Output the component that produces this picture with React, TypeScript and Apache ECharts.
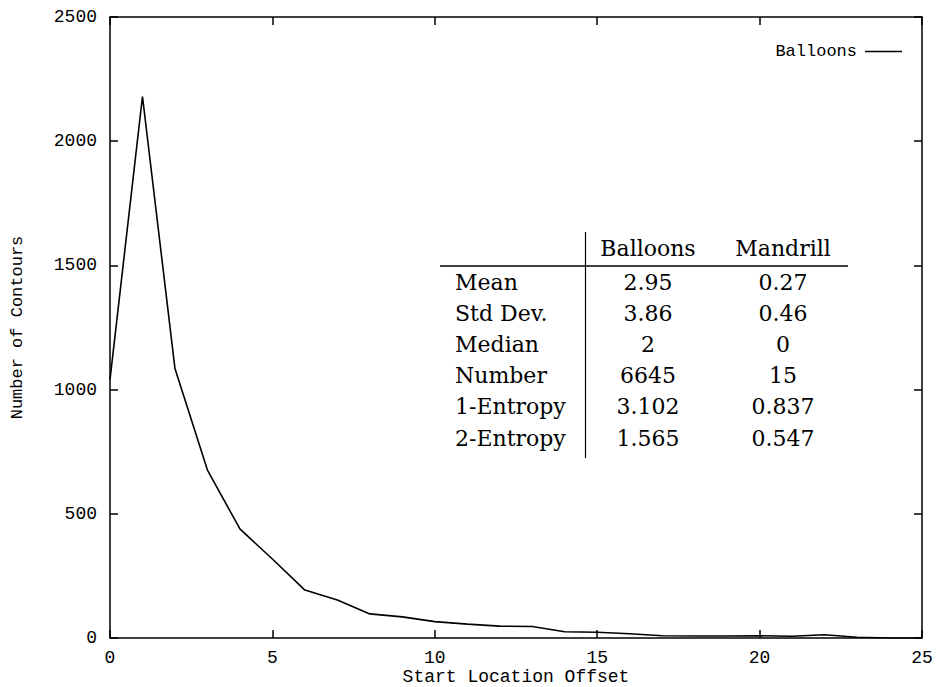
import React, { useEffect, useRef } from "react";
import * as echarts from "echarts";

const offsets = [0, 1, 2, 3, 4, 5, 6, 7, 8, 9, 10, 11, 12, 13, 14, 15, 16, 17, 18, 19, 20, 21, 22, 23, 24, 25];
const balloonsCounts = [1040, 2180, 1085, 676, 439, 318, 193, 153, 97, 85, 66, 56, 48, 46, 25, 23, 17, 9, 8, 8, 9, 7, 13, 3, 0, 0];

const tableColumns = ["Balloons", "Mandrill"];
const tableRows = ["Mean", "Std Dev.", "Median", "Number", "1-Entropy", "2-Entropy"];
const balloonsStats = ["2.95", "3.86", "2", "6645", "3.102", "1.565"];
const mandrillStats = ["0.27", "0.46", "0", "15", "0.837", "0.547"];

const MONO = "'Liberation Mono', 'DejaVu Sans Mono', monospace";
const SERIF = "'DejaVu Serif', 'Liberation Serif', serif";

export default function App() {
  const ref = useRef<HTMLDivElement>(null);

  useEffect(() => {
    if (!ref.current) return;
    const chart = echarts.init(ref.current, null, { renderer: "svg" });

    const tableFont = { fontFamily: SERIF, fontSize: 22, fill: "#000" };
    const rowY0 = 282;
    const rowStep = 31.2;
    const graphics: any[] = [];
    tableColumns.forEach((c, i) => {
      graphics.push({
        type: "text",
        x: i === 0 ? 648 : 783,
        y: 248,
        style: { ...tableFont, text: c, align: "center", verticalAlign: "middle" },
      });
    });
    tableRows.forEach((r, i) => {
      const y = rowY0 + i * rowStep;
      graphics.push({
        type: "text",
        x: 455,
        y,
        style: { ...tableFont, text: r, align: "left", verticalAlign: "middle" },
      });
      graphics.push({
        type: "text",
        x: 648,
        y,
        style: { ...tableFont, text: balloonsStats[i], align: "center", verticalAlign: "middle" },
      });
      graphics.push({
        type: "text",
        x: 783,
        y,
        style: { ...tableFont, text: mandrillStats[i], align: "center", verticalAlign: "middle" },
      });
    });
    graphics.push({
      type: "line",
      shape: { x1: 585.5, y1: 232, x2: 585.5, y2: 458 },
      style: { stroke: "#000", lineWidth: 1.2 },
    });
    graphics.push({
      type: "line",
      shape: { x1: 440, y1: 266, x2: 848, y2: 266 },
      style: { stroke: "#000", lineWidth: 1.5 },
    });

    const axisLine = { show: true, onZero: false, lineStyle: { color: "#000", width: 1.5 } };
    const tick = { show: true, inside: true, length: 8, lineStyle: { color: "#000", width: 1.5 } };
    const plain = (v: number) => String(v);

    chart.setOption({
      animation: false,
      backgroundColor: "#fff",
      grid: { left: 110, right: 14, top: 17, bottom: 49, containLabel: false, outerBoundsMode: "none" },
      legend: {
        show: true,
        right: 29,
        top: 38,
        align: "right",
        icon: "rect",
        itemWidth: 37,
        itemHeight: 1.5,
        data: ["Balloons"],
        textStyle: { fontFamily: MONO, fontSize: 17, color: "#000", padding: [0, 3, 0, 0] },
      },
      xAxis: [
        {
          type: "value",
          min: 0,
          max: 25,
          interval: 5,
          position: "bottom",
          name: "Start Location Offset",
          nameLocation: "middle",
          nameGap: 30,
          nameMoveOverlap: false,
          nameTextStyle: { fontFamily: MONO, fontSize: 18, color: "#000" },
          axisLine,
          axisTick: tick,
          axisLabel: { fontFamily: MONO, fontSize: 18, color: "#000", margin: 11, formatter: plain },
          splitLine: { show: false },
        },
        {
          type: "value",
          min: 0,
          max: 25,
          interval: 5,
          position: "top",
          axisLine,
          axisTick: tick,
          axisLabel: { show: false },
          splitLine: { show: false },
        },
      ],
      yAxis: [
        {
          type: "value",
          min: 0,
          max: 2500,
          interval: 500,
          position: "left",
          name: "Number of Contours",
          nameLocation: "middle",
          nameGap: 84,
          nameRotate: 90,
          nameMoveOverlap: false,
          nameTextStyle: { fontFamily: MONO, fontSize: 17, color: "#000" },
          axisLine,
          axisTick: tick,
          axisLabel: { fontFamily: MONO, fontSize: 18, color: "#000", margin: 13, formatter: plain },
          splitLine: { show: false },
        },
        {
          type: "value",
          min: 0,
          max: 2500,
          interval: 500,
          position: "right",
          axisLine,
          axisTick: tick,
          axisLabel: { show: false },
          splitLine: { show: false },
        },
      ],
      series: [
        {
          name: "Balloons",
          type: "line",
          xAxisIndex: 0,
          yAxisIndex: 0,
          data: offsets.map((x, i) => [x, balloonsCounts[i]]),
          showSymbol: false,
          symbol: "none",
          lineStyle: { color: "#000", width: 1.6 },
          itemStyle: { color: "#000" },
        },
      ],
      graphic: graphics,
    });

    return () => chart.dispose();
  }, []);

  return <div ref={ref} style={{ width: 936, height: 687, position: "absolute", left: 0, top: 0 }} />;
}
